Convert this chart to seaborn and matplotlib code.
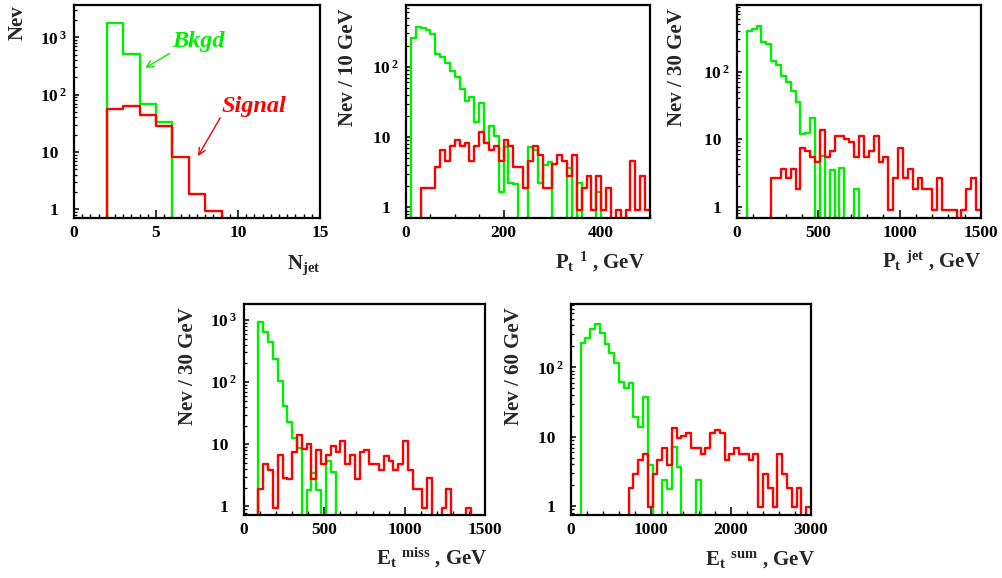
import numpy as np
import pandas as pd
import matplotlib
matplotlib.use("Agg")
import matplotlib.pyplot as plt
import seaborn as sns
from matplotlib.ticker import LogLocator, FuncFormatter, NullFormatter, MultipleLocator

# ---------------- data ----------------
njet_edges = list(range(0, 16, 1))
njet_bkgd = [0, 0, 1750, 505, 69, 33, 0, 0, 0, 0, 0, 0, 0, 0, 0]
njet_signal = [0, 0, 57, 64, 45, 28, 8.3, 1.87, 0.93, 0, 0, 0, 0, 0, 0]

pt1_edges = list(range(0, 510, 10))
pt1_bkgd = [0, 261, 371, 355, 332, 298, 150, 136, 114, 87,
            72, 49, 33, 37.5, 16.5, 31, 8.3, 14.3, 10.3, 1.67,
            7.3, 2.24, 2.14, 0, 0, 7.3, 6.5, 2.2, 4.0, 4.4,
            0, 0, 0, 3.6, 0, 2.2, 0, 0, 0, 1.67,
            0, 0, 0, 0, 0, 0, 0, 0, 0, 0]
pt1_signal = [0, 0, 0, 1.86, 1.86, 1.86, 3.8, 6.5, 4.6, 7.5,
              9.1, 7.5, 8.3, 4.6, 7.5, 11.9, 8.3, 6.5, 7.5, 4.6,
              9.1, 7.5, 3.8, 3.8, 1.86, 4.6, 7.5, 5.6, 1.86, 1.86,
              4.2, 5.6, 4.5, 2.75, 5.6, 0.93, 1.86, 2.75, 0.93, 2.8,
              0.93, 1.86, 0, 0.93, 0, 0.93, 4.6, 0.93, 2.8, 0.93]

ptjet_edges = list(range(0, 1530, 30))
ptjet_bkgd = [0, 0, 404, 427, 473, 277, 254, 144, 126, 86,
              69, 52, 35, 11.9, 12.3, 20.5, 0, 5.7, 0, 3.5,
              0, 3.7, 0, 0, 1.8, 0, 0, 0, 0, 0,
              0, 0, 0, 0, 0, 0, 0, 0, 0, 0,
              0, 0, 0, 0, 0, 0, 0, 0, 0, 0]
ptjet_signal = [0, 0, 0, 0, 0, 0, 0, 2.7, 2.7, 3.6,
                2.7, 3.6, 1.8, 7.4, 6.6, 5.5, 4.6, 13.7, 5.5, 6.6,
                11, 11, 10, 9, 5.5, 11, 5.5, 6.6, 11, 4.6,
                5.5, 0.9, 2.7, 7.4, 2.7, 3.6, 1.8, 2.7, 1.8, 1.8,
                0.9, 2.7, 0.9, 0.9, 0.9, 0, 0.9, 1.8, 2.7, 0.9]

etmiss_edges = list(range(0, 1530, 30))
etmiss_bkgd = [0, 0, 0, 940, 633, 433, 236, 106, 41.5, 22.7,
               12.6, 8.6, 0, 1.83, 3.5, 1.83, 0, 5.3, 3.6, 0,
               0, 0, 0, 0, 0, 0, 0, 0, 0, 0,
               0, 0, 0, 0, 0, 0, 0, 0, 0, 0,
               0, 0, 0, 0, 0, 0, 0, 0, 0, 0]
etmiss_signal = [0, 0, 0, 1.9, 4.9, 3.9, 0.94, 6.8, 2.86, 2.8,
                 7.5, 14.3, 8.5, 10.2, 2.8, 8.2, 4.8, 6.7, 9.4, 7.5,
                 11.2, 4.8, 6.7, 2.8, 7.5, 8.2, 4.8, 4.8, 3.8, 6.4,
                 5.4, 3.8, 4.8, 11.3, 3.9, 1.9, 1.9, 0.94, 2.86, 0,
                 0, 0.94, 1.9, 0, 0, 0, 0.94, 0, 0, 0]

etsum_edges = list(range(0, 3060, 60))
etsum_bkgd = [0, 0, 221, 261, 352, 416, 308, 217, 159, 117,
              62, 51, 60, 19.5, 13.7, 37.8, 3.9, 0, 0, 2.4,
              1.76, 7.2, 3.7, 0, 0, 0, 2.4, 0, 0, 0,
              0, 0, 0, 0, 0, 0, 0, 0, 0, 0,
              0, 0, 0, 0, 0, 0, 0, 0, 0, 0]
etsum_signal = [0, 0, 0, 0, 0, 0, 0, 0, 0, 0,
                0, 0, 1.86, 2.9, 4.7, 5.7, 0.97, 2.9, 4.7, 6.8,
                3.9, 13.2, 9.6, 10.4, 11.2, 6.8, 6.8, 5.7, 6.8, 11.2,
                12.5, 11.2, 4.7, 5.7, 6.8, 5.7, 5.7, 4.7, 5.7, 0.97,
                2.9, 1.86, 0.97, 5.7, 2.9, 1.86, 0.97, 1.86, 0, 0.97]

# ---------------- style ----------------
sns.set_theme(style="white")
plt.rcParams["font.family"] = ["Liberation Serif", "DejaVu Serif"]
plt.rcParams["font.weight"] = "bold"
plt.rcParams["axes.labelweight"] = "bold"
plt.rcParams["mathtext.fontset"] = "custom"
plt.rcParams["mathtext.rm"] = "Liberation Serif:bold"
plt.rcParams["mathtext.it"] = "Liberation Serif:bold"
plt.rcParams["mathtext.bf"] = "Liberation Serif:bold"

GREEN = "#00ee00"
RED = "#ff0000"
W, H = 1003, 578
LABEL_FS = 15
TICK_FS = 12.5

fig = plt.figure(figsize=(W / 100, H / 100), dpi=100)


def add_axes(l, t, r, b):
    return fig.add_axes([l / W, 1 - b / H, (r - l) / W, (b - t) / H])


def yfmt(v, pos):
    e = int(round(np.log10(v)))
    if e == 0:
        return "1\u2002"
    if e == 1:
        return "10\u2002"
    return r"$10^{\,%d}$" % e


def panel(ax, edges, bkgd, sig, ylim, xmajor, xminor, ylabel, ylab_x, ylab_y,
          xlabel, xlab_x, xlab_y):
    e = np.asarray(edges, dtype=float)
    centers = 0.5 * (e[:-1] + e[1:])
    ax.set_yscale("log")
    for vals, col in [(bkgd, GREEN), (sig, RED)]:
        df = pd.DataFrame({"x": centers, "w": np.asarray(vals, dtype=float)})
        sns.histplot(data=df, x="x", weights="w", bins=list(e),
                     element="step", fill=False, color=col, linewidth=1.7,
                     ax=ax)
    ax.set_xlim(e[0], e[-1])
    ax.set_ylim(*ylim)
    ax.xaxis.set_major_locator(MultipleLocator(xmajor))
    ax.xaxis.set_minor_locator(MultipleLocator(xminor))
    ax.yaxis.set_major_locator(LogLocator(base=10))
    ax.yaxis.set_minor_locator(LogLocator(base=10, subs=np.arange(2, 10)))
    ax.yaxis.set_major_formatter(FuncFormatter(yfmt))
    ax.yaxis.set_minor_formatter(NullFormatter())
    ax.tick_params(which="both", direction="in", left=True, bottom=True,
                   top=False, right=False, colors="black",
                   labelsize=TICK_FS)
    ax.tick_params(axis="x", which="major", length=6, width=1.1, pad=5)
    ax.tick_params(axis="x", which="minor", length=3, width=1.0)
    ax.tick_params(axis="y", which="major", length=3.5, width=1.1, pad=5)
    ax.tick_params(axis="y", which="minor", length=2, width=0.9)
    for s in ax.spines.values():
        s.set_linewidth(1.6)
        s.set_color("black")
    ax.set_ylabel(ylabel, fontsize=LABEL_FS, fontweight="bold", loc="top")
    ax.yaxis.set_label_coords(ylab_x, ylab_y)
    ax.set_xlabel(xlabel, fontsize=LABEL_FS, fontweight="bold", loc="right",
                  va="baseline")
    ax.xaxis.set_label_coords(xlab_x, xlab_y)
    ax.grid(False)
    ax.set_facecolor("white")


ax1 = add_axes(74, 5, 320, 218)
panel(ax1, njet_edges, njet_bkgd, njet_signal, (0.705, 3660), 5, 0.5,
      "Nev", -0.19, 1.0, r"N$_{jet}$", 1.0, -0.239)
ax1.text(5.97, 680, "Bkgd", color=GREEN, fontsize=17.5, style="italic",
         fontweight="bold", ha="left", va="baseline")
ax1.annotate("", xy=(4.19, 276), xytext=(5.97, 553),
             arrowprops=dict(arrowstyle="->", color=GREEN, lw=1.0))
ax1.text(9.0, 50, "Signal", color=RED, fontsize=17.5, style="italic",
         fontweight="bold", ha="left", va="baseline")
ax1.annotate("", xy=(7.48, 7.7), xytext=(9.0, 43.5),
             arrowprops=dict(arrowstyle="->", color=RED, lw=1.0))

ax2 = add_axes(406, 5, 650, 218)
panel(ax2, pt1_edges, pt1_bkgd, pt1_signal, (0.705, 760), 200, 50,
      "Nev / 10 GeV", -0.198, 0.986, r"P$_{t}\ ^{1}$ , GeV", 0.98, -0.235)

ax3 = add_axes(737, 5, 981, 218)
panel(ax3, ptjet_edges, ptjet_bkgd, ptjet_signal, (0.68, 966), 500, 100,
      "Nev / 30 GeV", -0.203, 0.986, r"P$_{t}\ ^{jet}$ , GeV", 1.0, -0.235)

ax4 = add_axes(244, 304, 485, 515)
panel(ax4, etmiss_edges, etmiss_bkgd, etmiss_signal, (0.73, 1800), 500, 100,
      "Nev / 30 GeV", -0.19, 0.986, r"E$_{t}\ ^{miss}$ , GeV", 1.01, -0.236)

ax5 = add_axes(571, 304, 811, 515)
panel(ax5, etsum_edges, etsum_bkgd, etsum_signal, (0.75, 815), 1000, 200,
      "Nev / 60 GeV", -0.197, 0.986, r"E$_{t}\ ^{sum}$ , GeV", 1.015, -0.236)

fig.savefig("out.png", dpi=100, facecolor="white")
